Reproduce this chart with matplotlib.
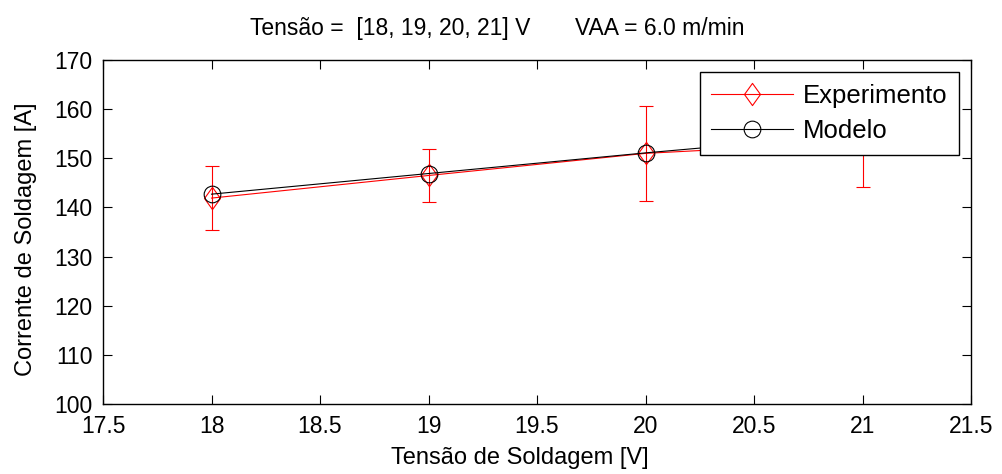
import matplotlib
matplotlib.use("Agg")
import matplotlib.pyplot as plt
from matplotlib.path import Path

plt.rcParams['font.family'] = ['Liberation Sans', 'DejaVu Sans']

tensao = [18, 19, 20, 21]
experimento = [141.9, 146.5, 151.0, 153.3]
erro = [6.45, 5.4, 9.6, 9.1]
modelo = [142.7, 146.9, 151.1, 155.0]

diamond = Path([(0, 1), (0.72, 0), (0, -1), (-0.72, 0), (0, 1)],
               [Path.MOVETO, Path.LINETO, Path.LINETO, Path.LINETO, Path.CLOSEPOLY])

fig = plt.figure(figsize=(10.03, 4.74), dpi=100)
ax = fig.add_axes([0.1027, 0.1477, 0.8654, 0.7257])

ax.errorbar(tensao, experimento, yerr=erro, fmt='none', ecolor='red',
            capsize=4.7, elinewidth=0.8, capthick=0.8)
ax.plot(tensao, experimento, color='red', lw=0.8, marker=diamond, markersize=16,
        markerfacecolor='none', markeredgecolor='red', markeredgewidth=0.8,
        label='Experimento')
ax.plot(tensao, modelo, color='black', lw=0.8, marker='o', markersize=12,
        markerfacecolor='none', markeredgecolor='black', markeredgewidth=0.8,
        label='Modelo')

ax.set_xlim(17.5, 21.5)
ax.set_ylim(100, 170)
ax.set_xticks([17.5, 18, 18.5, 19, 19.5, 20, 20.5, 21, 21.5])
ax.set_xticklabels(['17.5', '18', '18.5', '19', '19.5', '20', '20.5', '21', '21.5'])
ax.set_yticks(range(100, 171, 10))
ax.tick_params(direction='in', top=True, right=True, labelsize=16.5, length=6.5,
               width=0.8)
ax.tick_params(axis='x', pad=8)
ax.tick_params(axis='y', pad=7.5)
for s in ax.spines.values():
    s.set_linewidth(1.0)

ax.set_xlabel('Tensão de Soldagem [V]', fontsize=17, labelpad=6.5, x=0.48)
ax.set_ylabel('Corrente de Soldagem [A]', fontsize=17, labelpad=12.5, y=0.48)
ax.set_title('Tensão =  [18, 19, 20, 21] V       VAA = 6.0 m/min', fontsize=16.5,
             pad=18, x=0.4545)

leg = ax.legend(loc='upper right', bbox_to_anchor=(0.986, 0.965), fontsize=18.5,
                frameon=True, fancybox=False, edgecolor='black', framealpha=1,
                handlelength=3.2, handletextpad=0.36, borderpad=0.45,
                labelspacing=0.45, borderaxespad=0)
leg.get_frame().set_linewidth(1.0)

fig.savefig('out.png', dpi=100)
